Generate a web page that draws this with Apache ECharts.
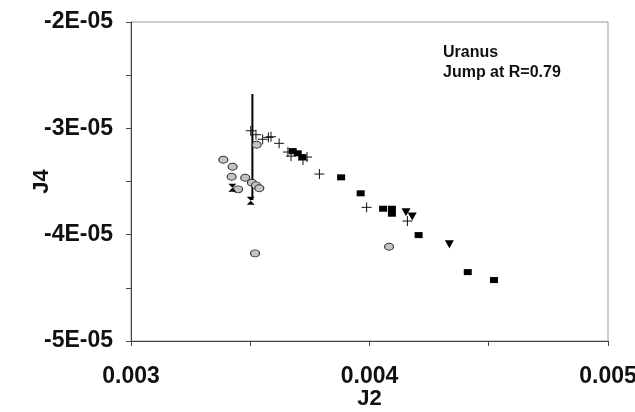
<!DOCTYPE html>
<html>
<head>
<meta charset="utf-8">
<script src="https://cdn.jsdelivr.net/npm/echarts@6/dist/echarts.min.js"></script>
<style>html,body{margin:0;padding:0;background:#fff}#c{width:635px;height:412px}</style>
</head>
<body>
<div id="c"></div>
<script>
// J2 (x) and J4 (y) values per marker group
const plusJ2 = [0.003502,0.003524,0.003552,0.003576,0.003587,0.003621,0.003658,0.003671,0.003721,0.003738,0.003790,0.003988,0.004159];
const plusJ4 = [-3.023e-5,-3.060e-5,-3.103e-5,-3.085e-5,-3.079e-5,-3.141e-5,-3.223e-5,-3.261e-5,-3.298e-5,-3.270e-5,-3.430e-5,-3.743e-5,-3.872e-5];
const squareJ2 = [0.003678,0.003699,0.003718,0.003881,0.003963,0.004057,0.004094,0.004094,0.004206,0.004412,0.004522];
const squareJ4 = [-3.214e-5,-3.235e-5,-3.270e-5,-3.461e-5,-3.611e-5,-3.756e-5,-3.756e-5,-3.803e-5,-4.004e-5,-4.352e-5,-4.427e-5];
const triJ2 = [0.004153,0.004179,0.004335];
const triJ4 = [-3.790e-5,-3.830e-5,-4.091e-5];
const circleJ2 = [0.003527,0.003387,0.003426,0.003422,0.003479,0.003507,0.003524,0.003538,0.003449,0.003520,0.004082];
const circleJ4 = [-3.154e-5,-3.295e-5,-3.361e-5,-3.455e-5,-3.465e-5,-3.512e-5,-3.536e-5,-3.564e-5,-3.574e-5,-4.176e-5,-4.114e-5];
const hourJ2 = [0.003425,0.003502];
const hourJ4 = [-3.559e-5,-3.681e-5];
const jumpJ2 = [0.003509,0.003509];
const jumpJ4 = [-2.677e-5,-3.674e-5];
const xTicks = [0.003,0.004,0.005];
const yTicks = [-2e-5,-3e-5,-4e-5,-5e-5];
const yTickLabels = ['-2E-05','-3E-05','-4E-05','-5E-05'];
const noteLines = ['Uranus','Jump at R=0.79'];

const zip = (a,b) => a.map((v,i)=>[v,b[i]]);
const FONT = '"Liberation Sans", Arial, sans-serif';
const chart = echarts.init(document.getElementById('c'), null, {renderer:'canvas'});
chart.setOption({
  animation:false,
  backgroundColor:'#fff',
  grid:{left:131,right:27,top:22,bottom:71,containLabel:false,outerBoundsMode:'none',show:true,borderColor:'#999',borderWidth:1},
  xAxis:{
    type:'value',min:0.003,max:0.005,interval:0.0005,
    name:'J2',nameLocation:'middle',nameGap:47,nameMoveOverlap:false,
    nameTextStyle:{fontFamily:FONT,fontWeight:'bold',fontSize:22,color:'#111'},
    axisLine:{lineStyle:{color:'#444',width:1}},
    axisTick:{length:5,lineStyle:{color:'#444'}},
    splitLine:{show:false},
    axisLabel:{margin:24,fontFamily:FONT,fontWeight:'bold',fontSize:23,color:'#111',hideOverlap:false,
      formatter:v=>{const i=xTicks.findIndex(t=>Math.abs(t-v)<1e-9);return i>=0?xTicks[i].toFixed(3):'';}}
  },
  yAxis:{
    type:'value',min:-5e-5,max:-2e-5,interval:5e-6,
    name:'J4',nameLocation:'middle',nameGap:78,nameMoveOverlap:false,
    nameTextStyle:{fontFamily:FONT,fontWeight:'bold',fontSize:22,color:'#111'},
    axisLine:{show:true,lineStyle:{color:'#444',width:1}},
    axisTick:{show:true,length:5,lineStyle:{color:'#444'}},
    splitLine:{show:false},
    axisLabel:{margin:18,fontFamily:FONT,fontWeight:'bold',fontSize:23,color:'#111',
      formatter:v=>{const i=yTicks.findIndex(t=>Math.abs(t-v)<1e-12);return i>=0?yTickLabels[i]:'';}}
  },
  graphic:[
    {type:'text',left:443,top:45,style:{text:noteLines[0],font:'bold 16px '+FONT,fill:'#111'}},
    {type:'text',left:443,top:65,style:{text:noteLines[1],font:'bold 16px '+FONT,fill:'#111'}}
  ],
  series:[
    {type:'line',data:zip(jumpJ2,jumpJ4),symbol:'none',lineStyle:{color:'#000',width:2},z:1},
    {type:'scatter',data:zip(circleJ2,circleJ4),symbol:'circle',symbolSize:[9,7],
      itemStyle:{color:'#c4c4c4',borderColor:'#333',borderWidth:1,opacity:1},z:3},
    {type:'scatter',data:zip(plusJ2,plusJ4),symbol:'path://M0,5L10,5M5,0L5,10',symbolSize:10,
      itemStyle:{color:'none',borderColor:'#111',borderWidth:1,opacity:1},z:4},
    {type:'scatter',data:zip(squareJ2,squareJ4),symbol:'rect',symbolSize:[8,6],
      itemStyle:{color:'#000',opacity:1},z:5},
    {type:'scatter',data:zip(triJ2,triJ4),symbol:'triangle',symbolRotate:180,symbolSize:[9,8],
      itemStyle:{color:'#000',opacity:1},z:5},
    {type:'scatter',data:zip(hourJ2,hourJ4),symbol:'path://M0,0L10,0L5,5L10,10L0,10L5,5Z',symbolSize:[8,8],
      itemStyle:{color:'#000',opacity:1},z:5}
  ]
});
</script>
</body>
</html>
